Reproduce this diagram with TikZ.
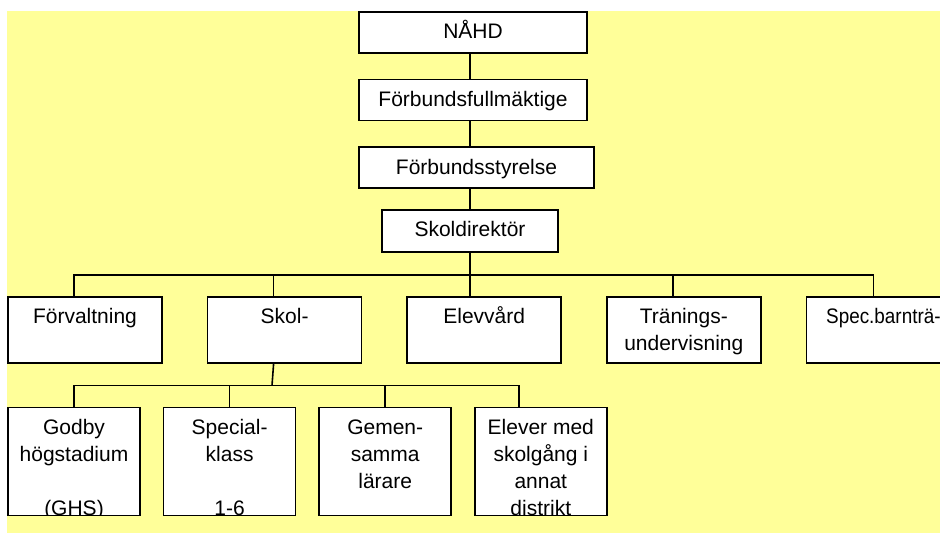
\documentclass[tikz,border=0pt]{standalone}
\usepackage{fontspec}
\setmainfont{Liberation Sans}
\usetikzlibrary{positioning}
\definecolor{paleyellow}{RGB}{255,255,153}
\tikzset{
  box/.style={draw, fill=white, line width=1.6pt, inner sep=0pt},
  topbox/.style={box, minimum width=228pt, minimum height=41pt},
  unitbox/.style={box, minimum width=154pt, minimum height=66pt},
  subbox/.style={box, minimum width=132pt, minimum height=108pt},
  boxtext/.style={align=center, inner sep=0pt, minimum width=0pt, minimum height=0pt, draw=none, fill=none, font=\fontsize{21}{27}\selectfont},
  boxlabel/.style 2 args={path picture={\node[boxtext, anchor=north] (#1) at ([yshift=-6pt]path picture bounding box.north) {\rule{0pt}{20pt}#2};}},
  line/.style={draw, line width=1.6pt},
}
\begin{document}
\begin{tikzpicture}[x=1pt,y=-1pt]
        \clip (0,0) rectangle (940,533);
        \fill[paleyellow] (7,11) rectangle (940,533);
        % top chain
        \node [topbox, boxlabel={nahd-t}{NÅHD}] (nahd) at (473,32.5) {};
        \node [topbox, boxlabel={fullm-t}{Förbundsfullmäktige}, below=25pt of nahd] (fullm) {};
        \node [topbox, minimum width=235pt, boxlabel={styr-t}{Förbundsstyrelse}, below right=25pt and 0pt of fullm.south west] (styr) {};
        \node [box, minimum width=176pt, minimum height=42pt, boxlabel={dir-t}{Skoldirektör}] (direktor) at (470,231) {};
        % units
        \node [unitbox, boxlabel={forv-t}{Förvaltning}] (forv) at (85,330) {};
        \node [unitbox, boxlabel={skol-t}{Skol-}, right=44pt of forv] (skol) {};
        \node [unitbox, boxlabel={elev-t}{Elevvård}, right=44pt of skol] (elev) {};
        \node [unitbox, boxlabel={tran-t}{Tränings-\\undervisning}, right=44pt of elev] (tran) {};
        \node [unitbox, boxlabel={spec-t}{\addfontfeatures{FakeStretch=0.9}Spec.barnträ-}, right=44pt of tran] (spec) {};
        % schools
        \node [subbox, boxlabel={godby-t}{Godby\\högstadium\\[27pt](GHS)}] (godby) at (74,461.5) {};
        \node [subbox, boxlabel={spcl-t}{Special-\\klass\\[27pt]1-6}, right=22pt of godby] (spcl) {};
        \node [subbox, boxlabel={gemen-t}{Gemen-\\samma\\lärare}, right=22pt of spcl] (gemen) {};
        \node [subbox, boxlabel={elever-t}{Elever med\\skolgång i\\annat\\distrikt}, right=22pt of gemen] (elever) {};
        \coordinate (bus1) at (470,275);
        \coordinate (bus2) at (272,385.5);
        \draw [line] (nahd.south -| direktor) -- (fullm.north -| direktor);
        \draw [line] (fullm.south -| direktor) -- (styr.north -| direktor);
        \draw [line] (styr.south -| direktor) -- (direktor.north);
        \draw [line] (direktor.south) -- (bus1);
        \draw [line] ([xshift=-11pt]forv.north) |- (bus1);
        \draw [line] ([xshift=-11pt]skol.north) -- ([xshift=-11pt]skol.north |- bus1);
        \draw [line] (elev.north -| bus1) -- (bus1);
        \draw [line] ([xshift=-11pt]tran.north) |- (bus1);
        \draw [line] ([xshift=-10pt]spec.north) |- (bus1);
        \draw [line] ([xshift=-11pt]skol.south) -- (bus2);
        \draw [line] (godby.north) |- (bus2);
        \draw [line] (spcl.north) -- (spcl.north |- bus2);
        \draw [line] (gemen.north) -- (gemen.north |- bus2);
        \draw [line] ([xshift=-22pt]elever.north) |- (bus2);
\end{tikzpicture}
\end{document}
